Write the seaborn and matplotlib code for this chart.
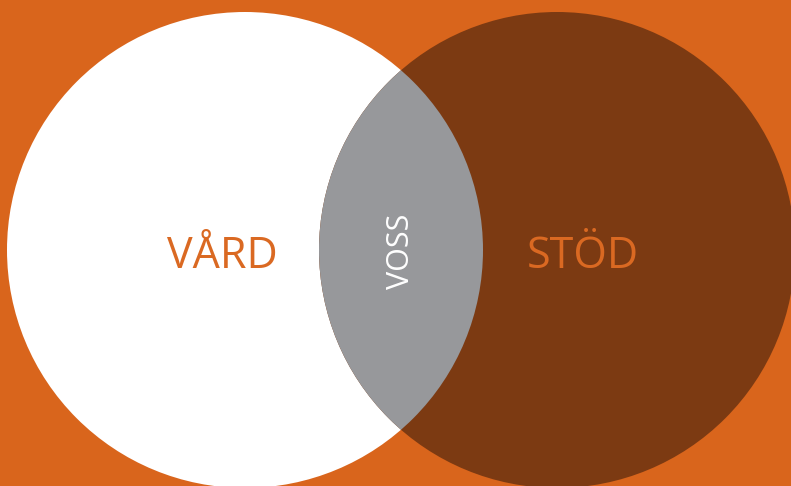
import matplotlib.pyplot as plt
import seaborn as sns
from matplotlib.patches import Circle

sns.set_theme(style="white")
plt.rcParams['font.family'] = ['Open Sans', 'DejaVu Sans']

# mängder och etiketter
set_labels = ['VÅRD', 'STÖD']
overlap_label = 'VOSS'

bg_color = '#D9651C'
left_color = '#FFFFFF'
right_color = '#7C3A12'
overlap_color = '#97989B'
text_color = '#DA6922'

# geometri i pixlar (bild 791x486)
W, H = 791, 486
r = 238
centers = [(245, 250), (557, 250)]

fig = plt.figure(figsize=(W / 100, H / 100), dpi=100)
fig.patch.set_facecolor(bg_color)
ax = fig.add_axes([0, 0, 1, 1])
ax.set_facecolor(bg_color)
ax.set_xlim(0, W)
ax.set_ylim(H, 0)
ax.set_aspect('equal')
ax.axis('off')

c_left = Circle(centers[0], r, facecolor=left_color, edgecolor='none')
c_right = Circle(centers[1], r, facecolor=right_color, edgecolor='none')
ax.add_patch(c_left)
ax.add_patch(c_right)

# överlappet: grå cirkel klippt av vänstra cirkeln
c_overlap = Circle(centers[1], r, facecolor=overlap_color, edgecolor='none')
ax.add_patch(c_overlap)
clip = Circle(centers[0], r, transform=ax.transData)
c_overlap.set_clip_path(clip)

ax.text(222, 257, set_labels[0], color=text_color, fontsize=31,
        ha='center', va='center')
ax.text(583, 257, set_labels[1], color=text_color, fontsize=31,
        ha='center', va='center')
ax.text(401, 251, overlap_label, color='white', fontsize=22,
        ha='center', va='center', rotation=90)

plt.savefig('out.png', dpi=100, facecolor=bg_color)
